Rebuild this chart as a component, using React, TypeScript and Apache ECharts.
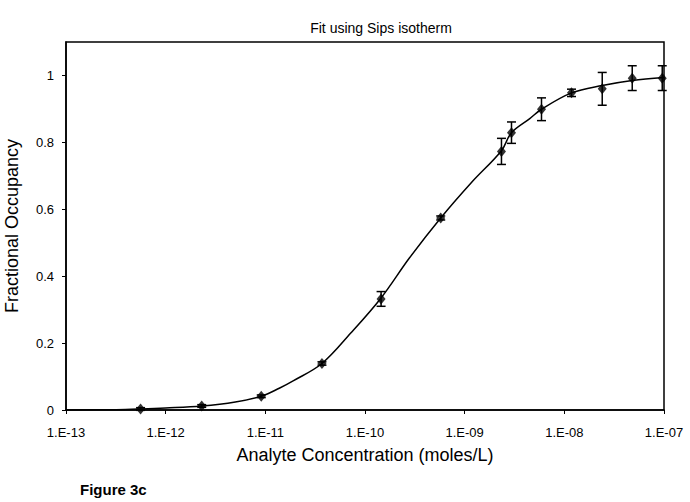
import React, { useEffect, useRef } from "react";
import * as echarts from "echarts";

// Measured points (analyte concentration in moles/L)
const pointConc = [5.6e-13, 2.3e-12, 9.1e-12, 3.7e-11, 1.45e-10, 5.75e-10, 2.34e-9, 2.95e-9, 5.9e-9, 1.18e-8, 2.4e-8, 4.8e-8, 9.6e-8];
const pointOcc = [0.003, 0.012, 0.041, 0.139, 0.332, 0.574, 0.773, 0.829, 0.899, 0.948, 0.96, 0.992, 0.992];
const pointErr = [0.004, 0.004, 0.004, 0.005, 0.022, 0.006, 0.039, 0.032, 0.034, 0.011, 0.049, 0.037, 0.037];

// Fitted curve
const curveConc = [1e-13, 3.2e-13, 5.6e-13, 1e-12, 2.3e-12, 5e-12, 9.1e-12, 1.38e-11, 1.9e-11, 3.7e-11, 7.2e-11, 1.45e-10, 2.8e-10, 5.75e-10, 1.17e-9, 2.34e-9, 2.95e-9, 4.5e-9, 5.9e-9, 1.18e-8, 2.4e-8, 4.8e-8, 1e-7];
const curveOcc = [0, 0.001, 0.003, 0.006, 0.012, 0.024, 0.041, 0.065, 0.087, 0.139, 0.23, 0.335, 0.455, 0.574, 0.68, 0.775, 0.829, 0.871, 0.899, 0.948, 0.97, 0.985, 0.994];

const yTicks = [0, 0.2, 0.4, 0.6, 0.8, 1];

const titleText = "Fit using Sips isotherm";
const xName = "Analyte Concentration (moles/L)";
const yName = "Fractional Occupancy";
const figureLabel = "Figure 3c";

const FONT = "'Liberation Sans', Arial, sans-serif";

export default function App() {
  const ref = useRef<HTMLDivElement>(null);
  useEffect(() => {
    document.body.style.margin = "0";
    if (!ref.current) return;
    const chart = echarts.init(ref.current, undefined, { renderer: "svg" });
    const errData = pointConc.map((c, i) => [c, pointOcc[i] - pointErr[i], pointOcc[i] + pointErr[i]]);
    chart.setOption({
      animation: false,
      backgroundColor: "#ffffff",
      textStyle: { fontFamily: FONT },
      title: {
        text: titleText,
        left: 376,
        top: 16,
        textAlign: "center",
        textStyle: { fontSize: 14, fontWeight: "normal", color: "#000", fontFamily: FONT },
      },
      grid: {
        left: 66,
        right: 26,
        top: 42,
        bottom: 92,
        containLabel: false,
        outerBoundsMode: "none",
        show: true,
        borderColor: "#000",
        borderWidth: 1.5,
        backgroundColor: "#fff",
      },
      xAxis: {
        type: "log",
        logBase: 10,
        min: 1e-13,
        max: 1e-7,
        name: xName,
        nameLocation: "middle",
        nameGap: 36,
        nameTextStyle: { fontSize: 18, color: "#000", fontFamily: FONT },
        axisLine: { show: true, lineStyle: { color: "#000", width: 1.5 } },
        axisTick: { show: true, inside: false, length: 4, lineStyle: { color: "#000" } },
        minorTick: { show: false },
        splitLine: { show: false },
        axisLabel: {
          fontSize: 13,
          color: "#000",
          fontFamily: FONT,
          margin: 16,
          formatter: (v: number) => {
            const e = Math.round(Math.log10(v));
            return "1.E-" + String(-e).padStart(2, "0");
          },
        },
      },
      yAxis: {
        type: "value",
        min: 0,
        max: 1.1,
        interval: 0.2,
        name: yName,
        nameLocation: "middle",
        nameGap: 45,
        nameTextStyle: { fontSize: 18, color: "#000", fontFamily: FONT },
        axisLine: { show: true, lineStyle: { color: "#000", width: 1.5 } },
        axisTick: { show: true, inside: false, length: 4, lineStyle: { color: "#000" } },
        splitLine: { show: false },
        axisLabel: {
          fontSize: 13,
          color: "#000",
          fontFamily: FONT,
          margin: 12,
          showMaxLabel: false,
          formatter: (v: number) => (yTicks.some((t) => Math.abs(t - v) < 1e-9) ? String(Math.round(v * 10) / 10) : ""),
        },
      },
      series: [
        {
          type: "line",
          data: curveConc.map((c, i) => [c, curveOcc[i]]),
          smooth: 0.35,
          showSymbol: false,
          symbol: "none",
          lineStyle: { color: "#000", width: 1.5 },
          z: 2,
        },
        {
          type: "custom",
          data: errData,
          z: 3,
          renderItem: (params: any, api: any) => {
            const x = api.value(0);
            const lo = api.coord([x, api.value(1)]);
            const hi = api.coord([x, api.value(2)]);
            const hw = 4.5;
            const style = { stroke: "#000", lineWidth: 1.5, fill: "none" };
            return {
              type: "group",
              children: [
                { type: "line", shape: { x1: lo[0], y1: lo[1], x2: hi[0], y2: hi[1] }, style },
                { type: "line", shape: { x1: lo[0] - hw, y1: lo[1], x2: lo[0] + hw, y2: lo[1] }, style },
                { type: "line", shape: { x1: hi[0] - hw, y1: hi[1], x2: hi[0] + hw, y2: hi[1] }, style },
              ],
            };
          },
        },
        {
          type: "scatter",
          data: pointConc.map((c, i) => [c, pointOcc[i]]),
          symbol: "diamond",
          symbolSize: [9, 11],
          itemStyle: { color: "#000" },
          z: 4,
        },
      ],
      graphic: [
        {
          type: "text",
          left: 80,
          top: 482,
          style: { text: figureLabel, font: `bold 15px ${FONT}`, fill: "#000" },
        },
      ],
    });
    return () => chart.dispose();
  }, []);
  return <div ref={ref} style={{ width: 690, height: 502 }} />;
}
